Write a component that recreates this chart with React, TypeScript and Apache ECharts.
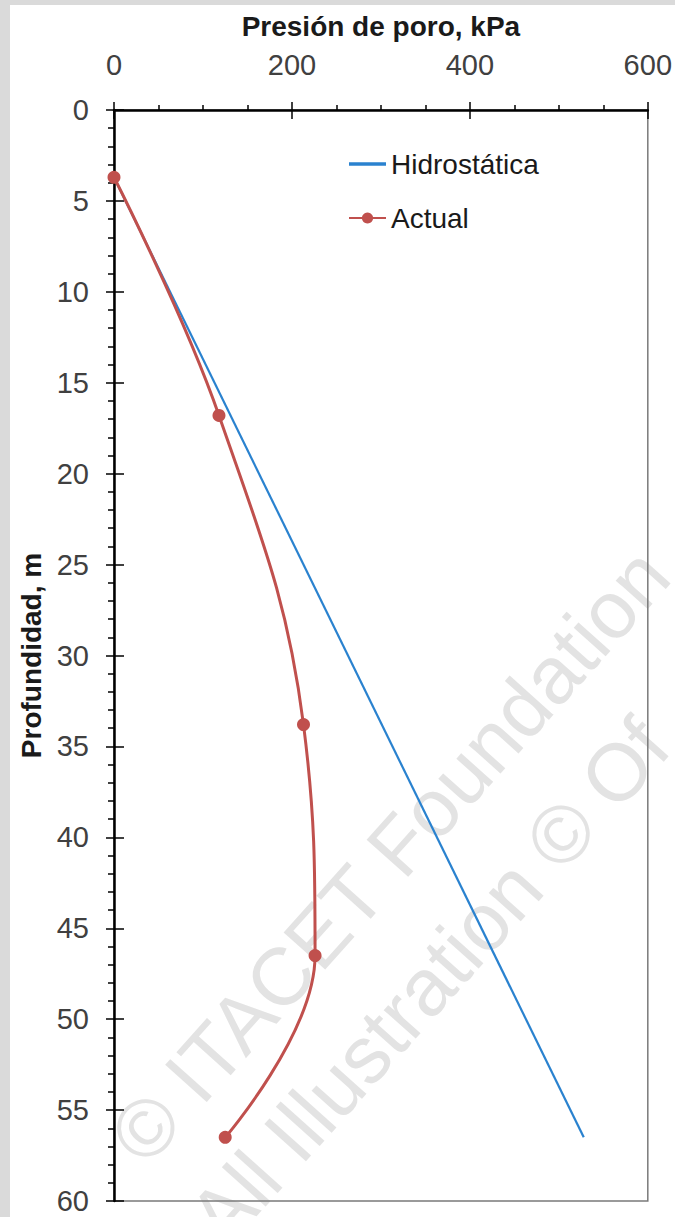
import React, { useEffect, useRef } from "react";
import * as echarts from "echarts";

const xTitle = "Presión de poro, kPa";
const yTitle = "Profundidad, m";
const seriesNames = ["Hidrostática", "Actual"];

// [pressure kPa, depth m]
const hydroPressure = [0, 528];
const hydroDepth = [3.7, 56.5];

const actualPressure = [0, 118, 213, 226, 125];
const actualDepth = [3.7, 16.8, 33.8, 46.5, 56.5];

const xMin = 0;
const xMax = 600;
const xInterval = 200;
const yMin = 0;
const yMax = 60;
const yInterval = 5;

const watermark1 = "© ITACET Foundation";
const watermark2 = "All Illustration © Of";

export default function App() {
  const ref = useRef<HTMLDivElement>(null);

  useEffect(() => {
    document.body.style.margin = "0";
    if (!ref.current) return;
    const chart = echarts.init(ref.current, undefined, { renderer: "svg" });

    const hydroData = hydroPressure.map((p, i) => [p, hydroDepth[i]]);
    const actualData = actualPressure.map((p, i) => [p, actualDepth[i]]);

    const tickColor = "#000";
    const labelColor = "#404040";
    const font = "Liberation Sans, Arial, sans-serif";

    const baseX = {
      type: "value",
      position: "top",
      min: xMin,
      max: xMax,
      interval: xInterval,
      splitLine: { show: false },
    };
    const baseY = {
      type: "value",
      position: "left",
      inverse: true,
      min: yMin,
      max: yMax,
      interval: yInterval,
      splitLine: { show: false },
    };

    const option: any = {
      animation: false,
      backgroundColor: "#dadada",
      textStyle: { fontFamily: font },
      graphic: [
        {
          type: "rect",
          shape: { x: 10, y: 5, width: 675, height: 1217 },
          style: { fill: "#ffffff" },
          z: -100,
          silent: true,
        },
        {
          type: "text",
          x: 126,
          y: 1150,
          rotation: 0.84,
          z: -50,
          silent: true,
          style: {
            text: watermark1,
            fontSize: 81,
            fontFamily: font,
            fill: "#e3e3e3",
            align: "left",
            verticalAlign: "middle",
          },
        },
        {
          type: "text",
          x: 205,
          y: 1232,
          rotation: 0.84,
          z: -50,
          silent: true,
          style: {
            text: watermark2,
            fontSize: 81,
            fontFamily: font,
            fill: "#e3e3e3",
            align: "left",
            verticalAlign: "middle",
          },
        },
      ],
      grid: {
        left: 114,
        right: 21,
        top: 110,
        bottom: 16,
        show: true,
        borderColor: "#7a7a7a",
        borderWidth: 1.5,
        backgroundColor: "transparent",
      },
      legend: {
        orient: "vertical",
        left: 348,
        top: 149,
        padding: 0,
        itemWidth: 37,
        itemHeight: 14,
        itemGap: 24,
        textStyle: { fontSize: 28, color: "#1a1a1a", fontFamily: font, lineHeight: 30 },
        data: [
          { name: seriesNames[0], icon: "path://M0,0 L10,0 L10,1 L0,1 Z" },
          { name: seriesNames[1] },
        ],
      },
      xAxis: [
        {
          ...baseX,
          name: xTitle,
          nameLocation: "middle",
          nameGap: 70,
          nameTextStyle: { fontSize: 28, fontWeight: "bold", color: "#1a1a1a", fontFamily: font },
          axisLine: { show: true, lineStyle: { color: tickColor, width: 2.5 } },
          axisTick: { show: true, inside: false, length: 8, lineStyle: { color: tickColor, width: 1.5 } },
          minorTick: { show: true, splitNumber: 4, length: 5, lineStyle: { color: tickColor, width: 1.5 } },
          axisLabel: { fontSize: 29, color: labelColor, margin: 31, fontFamily: font },
        },
        {
          ...baseX,
          axisLine: { show: false },
          axisTick: { show: true, inside: true, length: 9, lineStyle: { color: tickColor, width: 1.5 } },
          axisLabel: { show: false },
        },
      ],
      yAxis: [
        {
          ...baseY,
          name: yTitle,
          nameLocation: "middle",
          nameGap: 66,
          nameTextStyle: { fontSize: 28, fontWeight: "bold", color: "#1a1a1a", fontFamily: font },
          axisLine: { show: true, lineStyle: { color: tickColor, width: 2.5 } },
          axisTick: { show: true, inside: false, length: 8, lineStyle: { color: tickColor, width: 1.5 } },
          minorTick: { show: true, splitNumber: 5, length: 6, lineStyle: { color: tickColor, width: 1.5 } },
          axisLabel: { fontSize: 29, color: labelColor, margin: 25, fontFamily: font },
        },
        {
          ...baseY,
          axisLine: { show: false },
          axisTick: { show: true, inside: true, length: 10, lineStyle: { color: tickColor, width: 1.5 } },
          axisLabel: { show: false },
        },
      ],
      series: [
        {
          name: seriesNames[0],
          type: "line",
          xAxisIndex: 0,
          yAxisIndex: 0,
          data: hydroData,
          symbol: "none",
          lineStyle: { color: "#2a82cf", width: 2.2 },
          itemStyle: { color: "#2a82cf" },
          z: 3,
        },
        {
          name: seriesNames[1],
          type: "line",
          xAxisIndex: 0,
          yAxisIndex: 0,
          data: actualData,
          smooth: 0.4,
          symbol: "circle",
          symbolSize: 13,
          lineStyle: { color: "#c0504d", width: 3 },
          itemStyle: { color: "#c0504d" },
          z: 4,
        },
      ],
    };

    chart.setOption(option);
    return () => chart.dispose();
  }, []);

  return <div ref={ref} style={{ width: 675, height: 1217 }} />;
}
